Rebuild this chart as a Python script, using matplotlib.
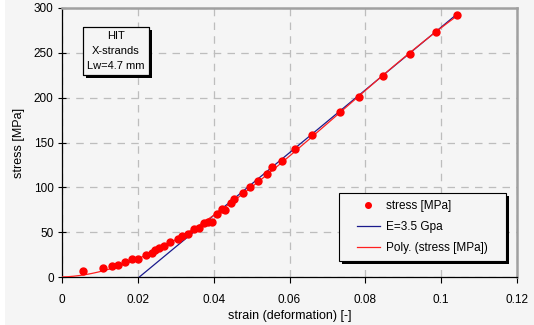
import numpy as np
import matplotlib
matplotlib.use('Agg')
import matplotlib.pyplot as plt
import matplotlib.patches as mpatches

plt.rcParams['font.family'] = ['Liberation Sans', 'DejaVu Sans']

# measured points
strain = [0.0056, 0.0107, 0.0131, 0.0147, 0.0166, 0.0184, 0.0201, 0.0221, 0.0238,
          0.0245, 0.0257, 0.0270, 0.0285, 0.0305, 0.0317, 0.0333, 0.0348, 0.0361,
          0.0374, 0.0386, 0.0396, 0.0410, 0.0423, 0.0430, 0.0447, 0.0454, 0.0477,
          0.0496, 0.0516, 0.0540, 0.0555, 0.0579, 0.0614, 0.0659, 0.0733, 0.0782,
          0.0846, 0.0919, 0.0986, 0.1042]
stress = [7.0, 9.7, 12.3, 13.7, 17.1, 19.7, 20.4, 24.2, 27.1,
          29.8, 32.3, 34.2, 39.0, 42.4, 45.4, 48.3, 53.2, 54.3,
          59.9, 61.3, 61.7, 69.9, 75.5, 74.7, 82.9, 87.0, 93.3,
          100.0, 107.1, 114.9, 122.3, 129.4, 142.8, 158.0, 183.7, 200.7,
          223.7, 248.7, 273.2, 292.2]

# linear modulus line
E_mpa = 3500
lin_start = 0.0204
lin_end = 0.1038

x = np.array(strain)
y = np.array(stress)

# polynomial trendline (through origin, like the excel one)
A = np.vstack([x, x**2, x**3]).T
coef = np.linalg.lstsq(A, y, rcond=None)[0]
xp = np.linspace(0, 0.1045, 200)
yp = coef[0]*xp + coef[1]*xp**2 + coef[2]*xp**3

xl = np.array([lin_start, lin_end])
yl = E_mpa*(xl - lin_start)

fig = plt.figure(figsize=(5.34, 3.25), dpi=100, facecolor='white')
fig.patches.append(mpatches.Rectangle((5/534, 0), 1, 1, transform=fig.transFigure,
                                      facecolor='#f5f5f5', edgecolor='none', zorder=-10))
ax = fig.add_axes([62/534, 1-277/325, 455/534, 269/325])
ax.set_facecolor('#f5f5f5')

ax.plot(xl, yl, color='#1a1a8c', lw=0.9, label='E=3.5 Gpa', zorder=3)
ax.plot(xp, yp, color='#ff2020', lw=0.9, label='Poly. (stress [MPa])', zorder=4)
ax.plot(x, y, 'o', color='#ff0000', ms=5, label='stress [MPa]', zorder=5)

ax.set_xlim(0, 0.12)
ax.set_ylim(0, 300)
ax.set_xticks([0, 0.02, 0.04, 0.06, 0.08, 0.1, 0.12])
ax.set_xticklabels(['0', '0.02', '0.04', '0.06', '0.08', '0.1', '0.12'])
ax.set_yticks(range(0, 301, 50))
ax.grid(True, color='#bdbdbd', linestyle=(0, (6, 5)), lw=0.9)
ax.set_axisbelow(True)

for s in ['top', 'right']:
    ax.spines[s].set_color('#a0a0a0')
    ax.spines[s].set_linewidth(1.8)
for s in ['left', 'bottom']:
    ax.spines[s].set_color('black')
    ax.spines[s].set_linewidth(0.9)

ax.tick_params(axis='y', direction='inout', length=6, labelsize=8.5, pad=3)
ax.tick_params(axis='x', direction='out', length=4, labelsize=8.5, pad=8)
ax.set_xlabel('strain (deformation) [-]', fontsize=9, labelpad=3)
ax.set_ylabel('stress [MPa]', fontsize=9, labelpad=6)

txt = ax.text(0.01424, 252, 'HIT\nX-strands\nLw=4.7 mm', ha='center', va='center',
              fontsize=8, linespacing=1.6, zorder=9,
              bbox=dict(boxstyle='square,pad=0.35', facecolor='#f5f5f5',
                        edgecolor='black', lw=0.8))

h, l = ax.get_legend_handles_labels()
order = [2, 0, 1]
leg = ax.legend([h[i] for i in order], [l[i] for i in order], loc='lower right',
                bbox_to_anchor=(0.949, 0.064), fontsize=8.5, frameon=False,
                handlelength=2.0, handletextpad=0.5, borderpad=0.0,
                labelspacing=0.75, markerscale=0.8)
leg.set_zorder(10)

# boxes with black drop shadows (text box and legend)
fig.canvas.draw()
inv = ax.transAxes.inverted()


def box_with_shadow(bb, padx, pady, z):
    (x0, y0), (x1, y1) = inv.transform([[bb.x0 - padx, bb.y0 - pady],
                                        [bb.x1 + padx, bb.y1 + pady]])
    (sx0, sy0), _ = inv.transform([[bb.x0 - padx + 3, bb.y0 - pady - 3], [0, 0]])
    ax.add_patch(mpatches.Rectangle((sx0, sy0), x1 - x0, y1 - y0, transform=ax.transAxes,
                                    facecolor='black', edgecolor='none', zorder=z - 0.2,
                                    clip_on=False))
    ax.add_patch(mpatches.Rectangle((x0, y0), x1 - x0, y1 - y0, transform=ax.transAxes,
                                    facecolor='#f5f5f5', edgecolor='black', lw=0.8,
                                    zorder=z - 0.1, clip_on=False))


box_with_shadow(txt.get_bbox_patch().get_window_extent(), 0, 0, 9)
txt.get_bbox_patch().set_facecolor('none')
box_with_shadow(leg.get_window_extent(), 18, 7, 10)

fig.savefig('out.png', dpi=100, facecolor=fig.get_facecolor())
